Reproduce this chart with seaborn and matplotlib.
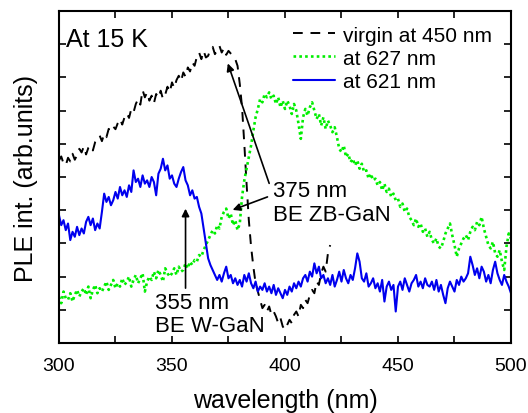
# PLE spectra at 15 K: virgin sample vs two detection wavelengths
import numpy as np
import seaborn as sns
import matplotlib
import matplotlib.pyplot as plt
from matplotlib.ticker import MultipleLocator

matplotlib.use("Agg")

# wavelength grids (nm)
wl_virgin = np.arange(300, 421)
wl = np.arange(300, 501)

# virgin sample, detected at 450 nm (300..420 nm)
virgin_450 = [
    5.50, 5.62, 5.41, 5.35, 5.58, 5.47, 5.70, 5.52, 5.66, 5.85,
    5.74, 5.92, 5.68, 5.88, 5.95, 5.80, 6.05, 6.12, 6.25, 6.08,
    6.30, 6.20, 6.45, 6.38, 6.52, 6.44, 6.62, 6.75, 6.58, 6.80,
    6.92, 6.78, 7.05, 6.95, 7.20, 7.35, 7.18, 7.62, 7.40, 7.55,
    7.30, 7.45, 7.22, 7.50, 7.38, 7.60, 7.35, 7.48, 7.72, 7.55,
    7.85, 7.68, 7.92, 8.05, 7.88, 8.15, 8.02, 8.30, 8.18, 8.45,
    8.35, 8.62, 8.75, 8.55, 8.80, 8.60, 8.65, 8.85, 8.92, 8.70,
    8.82, 8.95, 8.75, 8.88, 8.68, 8.80, 8.72, 8.65, 8.55, 8.35,
    7.80, 7.10, 6.00, 4.80, 3.70, 2.90, 2.30, 1.80, 1.55, 1.30,
    1.05, 1.15, 0.95, 1.10, 0.85, 0.95, 0.80, 0.60, 0.75, 0.50,
    0.40, 0.55, 0.70, 0.60, 0.85, 0.95, 0.80, 1.15, 1.05, 1.30,
    1.20, 1.45, 1.60, 1.50, 1.85, 1.75, 2.10, 2.30, 2.15, 2.70,
    2.95,
]

# detected at 627 nm (300..500 nm)
at_627 = [
    1.40, 1.20, 1.55, 1.35, 1.30, 1.50, 1.25, 1.45, 1.60, 1.40,
    1.55, 1.65, 1.45, 1.70, 1.35, 1.60, 1.75, 1.50, 1.65, 1.55,
    1.70, 1.85, 1.60, 1.75, 1.90, 1.65, 1.80, 1.70, 1.95, 1.75,
    1.85, 2.00, 1.70, 1.90, 2.05, 1.80, 1.95, 2.10, 1.55, 1.85,
    2.00, 1.90, 2.15, 1.95, 2.20, 2.05, 1.85, 2.25, 2.10, 2.00,
    2.10, 2.25, 2.05, 2.30, 2.15, 2.20, 2.40, 2.25, 2.45, 2.35,
    2.50, 2.45, 2.65, 2.60, 2.80, 2.95, 3.10, 3.25, 3.40, 3.30,
    3.55, 3.45, 3.80, 3.95, 4.05, 3.75, 3.90, 3.55, 3.70, 3.40,
    3.60, 4.40, 4.90, 5.25, 5.60, 5.95, 6.40, 6.80, 7.05, 7.35,
    7.25, 7.50, 7.40, 7.55, 7.35, 7.45, 7.20, 7.40, 7.10, 7.30,
    7.05, 7.30, 7.15, 6.90, 7.20, 7.00, 6.60, 6.15, 6.80, 7.05,
    6.85, 7.10, 7.25, 7.00, 6.75, 6.90, 6.55, 6.80, 6.45, 6.70,
    6.55, 6.35, 6.50, 6.20, 5.85, 5.75, 5.95, 5.60, 5.70, 5.45,
    5.55, 5.35, 5.50, 5.25, 5.40, 5.15, 5.20, 4.95, 5.10, 4.90,
    4.95, 4.75, 4.85, 4.60, 4.80, 4.55, 4.65, 4.40, 4.50, 4.30,
    4.35, 4.10, 4.20, 3.95, 4.05, 3.80, 3.70, 3.55, 3.75, 3.50,
    3.60, 3.35, 3.45, 3.20, 3.35, 3.10, 3.00, 3.15, 2.90, 2.85,
    3.05, 3.30, 3.45, 3.60, 3.25, 2.95, 2.60, 2.85, 3.00, 3.15,
    3.25, 3.10, 3.35, 3.50, 3.40, 3.65, 3.55, 3.80, 3.45, 3.20,
    2.95, 2.85, 3.05, 2.70, 2.60, 2.80, 2.45, 2.20, 2.90, 3.30,
    3.15,
]

# detected at 621 nm (300..500 nm)
at_621 = [
    3.85, 3.55, 3.70, 3.40, 3.60, 3.10, 3.35, 3.20, 3.50, 3.25,
    3.45, 3.30, 3.65, 3.80, 3.55, 3.75, 3.40, 3.60, 3.45, 3.95,
    4.50, 4.25, 4.40, 4.15, 4.30, 4.55, 4.35, 4.70, 4.45, 4.60,
    4.40, 4.75, 4.55, 5.20, 4.85, 4.95, 4.70, 5.05, 4.80, 4.90,
    4.70, 5.00, 4.85, 4.45, 5.10, 5.25, 5.55, 5.20, 5.35, 4.95,
    5.05, 4.80, 4.70, 4.95, 5.15, 5.30, 4.90, 4.75, 4.45, 4.60,
    4.35, 4.40, 4.10, 3.90, 3.45, 3.00, 2.55, 2.35, 2.20, 2.05,
    1.90, 2.05, 1.85, 2.10, 2.30, 1.95, 2.05, 1.80, 1.95, 1.75,
    1.90, 1.70, 2.05, 1.85, 2.10, 1.80, 1.65, 1.85, 1.55, 1.70,
    1.60, 1.80, 1.55, 1.70, 1.50, 1.75, 1.45, 1.65, 1.50, 1.35,
    1.60, 1.45, 1.70, 1.55, 1.80, 1.65, 1.85, 1.70, 1.95, 2.05,
    1.85, 2.15, 2.00, 2.40, 2.10, 2.30, 1.95, 2.05, 1.80, 1.95,
    1.75, 2.05, 1.70, 1.90, 2.15, 1.85, 2.20, 1.95, 1.80, 2.05,
    1.90, 2.25, 2.70, 2.45, 1.95, 1.85, 2.10, 1.70, 1.80, 1.95,
    1.65, 1.80, 1.55, 1.90, 1.25, 1.70, 1.85, 1.60, 1.75, 0.95,
    1.70, 1.85, 1.60, 1.95, 1.75, 1.55, 1.80, 1.90, 2.05, 1.70,
    1.85, 1.65, 1.95, 1.75, 1.70, 1.85, 1.60, 1.90, 1.55, 1.75,
    1.45, 1.20, 1.65, 1.85, 1.70, 1.55, 1.90, 1.75, 2.00, 1.85,
    1.95, 2.10, 2.60, 2.35, 2.05, 2.25, 1.95, 2.30, 2.15, 1.85,
    2.05, 1.80, 2.20, 2.45, 2.10, 1.90, 1.75, 2.05, 1.85, 1.70,
    1.50,
]

sns.set_style("ticks")
plt.rcParams["font.family"] = ["Liberation Sans", "DejaVu Sans"]
plt.rcParams.update({"text.color": "black", "axes.labelcolor": "black",
                     "xtick.color": "black", "ytick.color": "black",
                     "axes.edgecolor": "black"})

fig, ax = plt.subplots(figsize=(5.28, 4.14), dpi=100)
fig.subplots_adjust(left=0.1117, right=0.9678, top=0.971, bottom=0.169)

sns.lineplot(x=wl_virgin, y=virgin_450, ax=ax, color="black", lw=1.4,
             linestyle=(0, (5, 4)), label="virgin at 450 nm")
sns.lineplot(x=wl, y=at_627, ax=ax, color="#00ee00", lw=1.9,
             linestyle=(0, (1, 1.2)), label="at 627 nm")
sns.lineplot(x=wl, y=at_621, ax=ax, color="#0000ee", lw=1.5,
             label="at 621 nm")

ax.set_xlim(300, 500)
ax.set_ylim(0, 10)
ax.xaxis.set_major_locator(MultipleLocator(50))
ax.xaxis.set_minor_locator(MultipleLocator(25))
ax.yaxis.set_major_locator(MultipleLocator(1))
ax.set_yticklabels([])
ax.tick_params(which="both", direction="in", top=True, right=True,
               length=5, width=1.2, labelsize=14, pad=10)
for s in ax.spines.values():
    s.set_linewidth(1.5)

ax.set_xlabel("wavelength (nm)", fontsize=18, labelpad=10)
ax.set_ylabel("PLE int. (arb.units)", fontsize=18, labelpad=5)

ax.text(303, 8.95, "At 15 K", fontsize=18, va="baseline")

# arrows to the band-edge features
arrow = dict(arrowstyle="-|>", color="black", lw=1.2, mutation_scale=11)
ax.annotate("", xy=(374.3, 8.5), xytext=(393.4, 4.73), arrowprops=arrow)
ax.annotate("", xy=(375.7, 3.98), xytext=(393.4, 4.43), arrowprops=arrow)
ax.annotate("", xy=(356, 4.13), xytext=(356, 1.57), arrowprops=arrow)
ax.text(394.7, 4.9, "375 nm\nBE ZB-GaN", fontsize=16, va="top",
        linespacing=1.15)
ax.text(342.5, 1.55, "355 nm\nBE W-GaN", fontsize=16, va="top",
        linespacing=1.15)

ax.legend(loc="upper right", frameon=False, fontsize=15, handlelength=2.0,
          handletextpad=0.4, labelspacing=0.2, borderaxespad=0.3,
          bbox_to_anchor=(0.99, 1.0))

plt.savefig("out.png")
